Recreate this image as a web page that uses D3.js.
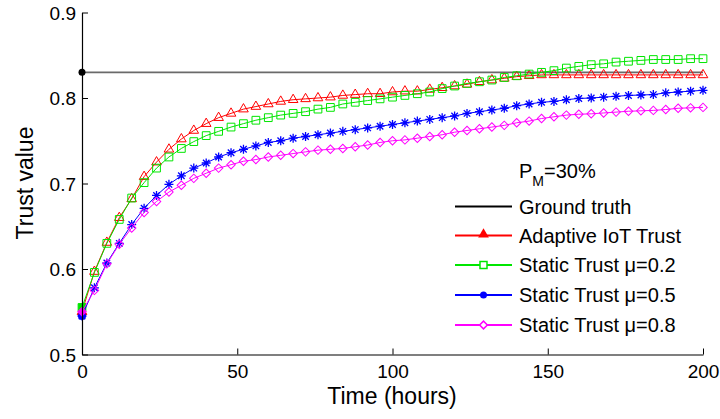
<!DOCTYPE html>
<html>
<head>
<meta charset="utf-8">
<script src="https://cdn.jsdelivr.net/npm/d3@7"></script>
<style>
  body { margin: 0; background: #fff; }
  svg { display: block; font-family: "Liberation Sans", Arial, sans-serif; }
</style>
</head>
<body>
<div id="chart"></div>
<script>
// time axis (hours), one sample every 4 hours
var hours = [0, 4, 8, 12, 16, 20, 24, 28, 32, 36, 40, 44, 48, 52, 56, 60, 64, 68, 72, 76,
  80, 84, 88, 92, 96, 100, 104, 108, 112, 116, 120, 124, 128, 132, 136, 140, 144, 148, 152, 156,
  160, 164, 168, 172, 176, 180, 184, 188, 192, 196, 200];

var groundTruth = 0.83;

var adaptive = [0.550, 0.597, 0.631, 0.660, 0.682, 0.708, 0.725, 0.740, 0.752, 0.762,
  0.770, 0.777, 0.782, 0.787, 0.790, 0.793, 0.796, 0.798, 0.799, 0.800,
  0.801, 0.803, 0.804, 0.805, 0.805, 0.807, 0.808, 0.808, 0.810, 0.812,
  0.814, 0.816, 0.819, 0.821, 0.823, 0.825, 0.826, 0.827, 0.827, 0.827,
  0.827, 0.827, 0.827, 0.827, 0.827, 0.827, 0.827, 0.827, 0.827, 0.827, 0.827];

var static02 = [0.555, 0.596, 0.630, 0.658, 0.683, 0.701, 0.718, 0.731, 0.741, 0.749,
  0.756, 0.761, 0.766, 0.770, 0.774, 0.777, 0.780, 0.782, 0.784, 0.787,
  0.789, 0.793, 0.795, 0.797, 0.799, 0.801, 0.803, 0.805, 0.807, 0.811,
  0.814, 0.817, 0.819, 0.821, 0.824, 0.826, 0.828, 0.830, 0.832, 0.835,
  0.837, 0.839, 0.840, 0.842, 0.843, 0.844, 0.845, 0.845, 0.845, 0.846, 0.846];

var static05 = [0.545, 0.578, 0.607, 0.630, 0.652, 0.671, 0.686, 0.699, 0.709, 0.718,
  0.724, 0.731, 0.736, 0.740, 0.744, 0.748, 0.750, 0.753, 0.755, 0.757,
  0.759, 0.761, 0.763, 0.765, 0.767, 0.769, 0.771, 0.773, 0.775, 0.777,
  0.779, 0.782, 0.784, 0.786, 0.788, 0.791, 0.793, 0.795, 0.796, 0.798,
  0.7995, 0.800, 0.801, 0.802, 0.803, 0.8035, 0.804, 0.806, 0.807, 0.808, 0.809];

var static08 = [0.550, 0.575, 0.606, 0.629, 0.648, 0.666, 0.679, 0.690, 0.698, 0.706,
  0.712, 0.718, 0.722, 0.726, 0.728, 0.731, 0.733, 0.735, 0.737, 0.739,
  0.740, 0.741, 0.743, 0.745, 0.748, 0.750, 0.751, 0.753, 0.755, 0.757,
  0.760, 0.762, 0.764, 0.766, 0.768, 0.771, 0.773, 0.776, 0.778, 0.780,
  0.781, 0.7815, 0.7825, 0.7835, 0.7845, 0.785, 0.7855, 0.7865, 0.788, 0.7885, 0.789];

var xTicks = [0, 50, 100, 150, 200];
var yTicks = [0.5, 0.6, 0.7, 0.8, 0.9];

var legendLabels = ["Ground truth", "Adaptive IoT Trust", "Static Trust \u03bc=0.2",
  "Static Trust \u03bc=0.5", "Static Trust \u03bc=0.8"];

var width = 720, height = 419;
var margin = { top: 12.5, right: 17, bottom: 64.5, left: 82 };

var svg = d3.select("#chart").append("svg")
  .attr("width", width)
  .attr("height", height);

var x = d3.scaleLinear().domain([0, 200]).range([margin.left, width - margin.right]);
var y = d3.scaleLinear().domain([0.5, 0.9]).range([height - margin.bottom, margin.top]);

// asterisk marker like matlab '*'
function starPath(r) {
  var p = d3.path();
  var d = r * 0.72;
  p.moveTo(-r, 0); p.lineTo(r, 0);
  p.moveTo(0, -r); p.lineTo(0, r);
  p.moveTo(-d, -d); p.lineTo(d, d);
  p.moveTo(-d, d); p.lineTo(d, -d);
  return p.toString();
}

var series = [
  { values: adaptive, color: "#ff0000", marker: d3.symbol(d3.symbolTriangle, 40)(), hollow: true },
  { values: static02, color: "#00e600", marker: d3.symbol(d3.symbolSquare, 60)(), hollow: true },
  { values: static05, color: "#0000ff", marker: starPath(4.5), hollow: false, star: true },
  { values: static08, color: "#ff00ff", marker: d3.symbol(d3.symbolSquare, 36)(), hollow: true, rotate: 45 }
];

// ground truth
svg.append("line")
  .attr("x1", x(0)).attr("x2", x(200))
  .attr("y1", y(groundTruth)).attr("y2", y(groundTruth))
  .attr("stroke", "#6a6a6a")
  .attr("stroke-width", 1.6);
svg.append("circle")
  .attr("cx", x(0)).attr("cy", y(groundTruth))
  .attr("r", 3.5).attr("fill", "#000");

var line = d3.line()
  .x(function (d, i) { return x(hours[i]); })
  .y(function (d) { return y(d); });

series.forEach(function (s) {
  var g = svg.append("g");
  g.append("path")
    .attr("d", line(s.values))
    .attr("fill", "none")
    .attr("stroke", s.color)
    .attr("stroke-width", 1);

  g.selectAll("path.mk")
    .data(s.values).enter()
    .append("path")
    .attr("class", "mk")
    .attr("d", s.marker)
    .attr("transform", function (d, i) {
      return "translate(" + x(hours[i]) + "," + y(d) + ")" + (s.rotate ? " rotate(" + s.rotate + ")" : "");
    })
    .attr("fill", function (d, i) { return (i === 0 && !s.star) ? s.color : "none"; })
    .attr("stroke", s.color)
    .attr("stroke-width", s.star ? 1.3 : 1);

  if (s.star) {
    g.append("circle")
      .attr("cx", x(hours[0])).attr("cy", y(s.values[0]))
      .attr("r", 4).attr("fill", s.color);
  }
});

// axes, matlab style: ticks point inward
var xAxis = d3.axisBottom(x).tickValues(xTicks).tickSizeInner(-6).tickSizeOuter(0).tickPadding(12)
  .tickFormat(d3.format("d"));
var yAxis = d3.axisLeft(y).tickValues(yTicks).tickSizeInner(-6).tickSizeOuter(0).tickPadding(12)
  .tickFormat(d3.format(".1f"));

var gx = svg.append("g")
  .attr("transform", "translate(0," + (height - margin.bottom) + ")")
  .call(xAxis);
var gy = svg.append("g")
  .attr("transform", "translate(" + margin.left + ",0)")
  .call(yAxis);

[gx, gy].forEach(function (g) {
  g.selectAll("path.domain").attr("stroke", "#000").attr("stroke-width", 1.2);
  g.selectAll(".tick line").attr("stroke", "#000");
  g.selectAll("text")
    .attr("fill", "#000")
    .style("font-family", "'Liberation Sans', Arial, sans-serif")
    .style("font-size", "19px");
});
gx.selectAll("text").attr("dy", "0.71em").attr("y", 10);
gy.selectAll("text").attr("x", -6).attr("dy", "0.36em");

// axis titles
svg.append("text")
  .attr("x", 392).attr("y", 404)
  .attr("text-anchor", "middle")
  .style("font-size", "23px")
  .text("Time (hours)");

svg.append("text")
  .attr("transform", "translate(33,183) rotate(-90)")
  .attr("text-anchor", "middle")
  .style("font-size", "23px")
  .text("Trust value");

// legend
var pm = svg.append("text")
  .attr("x", 519).attr("y", 178)
  .style("font-size", "20px");
pm.append("tspan").text("P");
pm.append("tspan").attr("dy", 8).style("font-size", "14px").text("M");
pm.append("tspan").attr("dy", -8).text("=30%");

var legendColors = ["#000", "#ff0000", "#00e600", "#0000ff", "#ff00ff"];
var legendY = [206.5, 235.5, 265, 295, 325];

legendLabels.forEach(function (label, i) {
  var ly = legendY[i];
  var c = legendColors[i];
  svg.append("line")
    .attr("x1", 455).attr("x2", 512)
    .attr("y1", ly).attr("y2", ly)
    .attr("stroke", c).attr("stroke-width", 1.8);
  if (i === 1) {
    svg.append("path").attr("d", d3.symbol(d3.symbolTriangle, 50)())
      .attr("transform", "translate(483.5," + (ly - 1) + ")").attr("fill", c);
  } else if (i === 2) {
    svg.append("rect").attr("x", 480).attr("y", ly - 3.5).attr("width", 7).attr("height", 7)
      .attr("fill", "#fff").attr("stroke", c).attr("stroke-width", 1.5);
  } else if (i === 3) {
    svg.append("circle").attr("cx", 483.5).attr("cy", ly).attr("r", 3.5).attr("fill", c);
  } else if (i === 4) {
    svg.append("path").attr("d", d3.symbol(d3.symbolSquare, 30)())
      .attr("transform", "translate(483.5," + ly + ") rotate(45)")
      .attr("fill", "#fff").attr("stroke", c).attr("stroke-width", 1.5);
  }
  svg.append("text")
    .attr("x", 519).attr("y", ly + 7)
    .style("font-size", "20px")
    .text(label);
});
</script>
</body>
</html>
